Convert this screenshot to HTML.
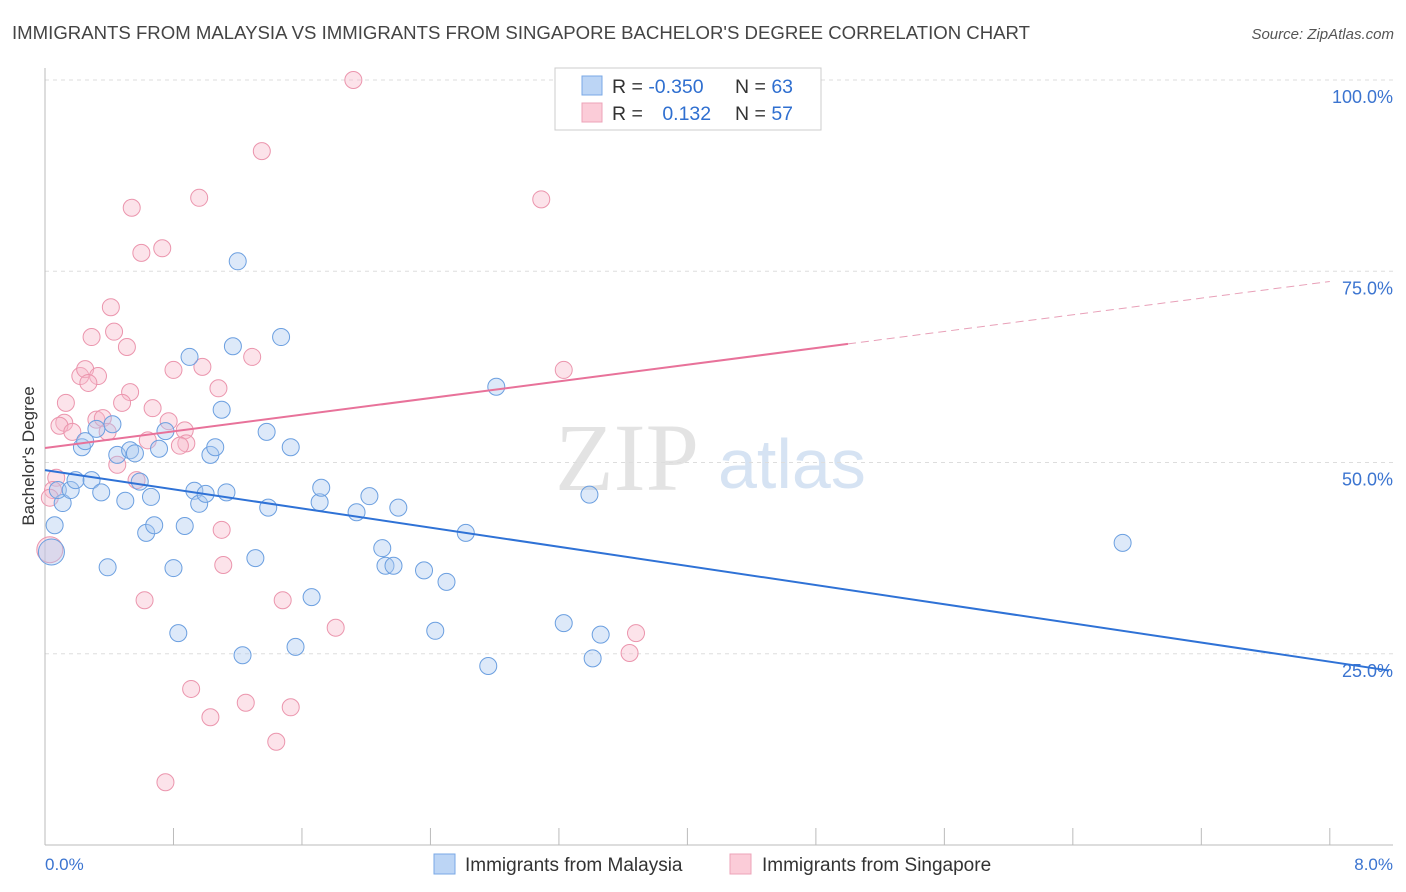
<!DOCTYPE html>
<html><head><meta charset="utf-8"><style>
body{margin:0;background:#fff;font-family:"Liberation Sans",sans-serif;}
svg{display:block}
</style></head><body>
<svg width="1406" height="892" id="chart">
<text x="12" y="39" font-size="18.6" fill="#444" textLength="1018">IMMIGRANTS FROM MALAYSIA VS IMMIGRANTS FROM SINGAPORE BACHELOR'S DEGREE CORRELATION CHART</text>
<text x="1394" y="39" font-size="15" fill="#555" font-style="italic" text-anchor="end">Source: ZipAtlas.com</text>
<g>
<text x="555" y="490" font-size="96" fill="#d8d8d8" font-family="Liberation Serif,serif" opacity="0.7">ZIP</text>
<text x="718" y="488" font-size="70" fill="#c5d8ee" opacity="0.7">atlas</text>
</g>
<g id="grid"></g>
<g id="axes"></g>
<g id="pts"></g>
<g id="lines"></g>
<g>
<rect x="555" y="68" width="266" height="62" fill="#fff" stroke="#ccc"/>
<rect x="582" y="76" width="20" height="19" fill="#bcd5f5" stroke="#7aa8e6"/>
<rect x="582" y="103" width="20" height="19" fill="#fbccd8" stroke="#eca3b8"/>
<text x="612" y="93" font-size="19.5" fill="#333">R = <tspan fill="#2f6fd0">-0.350</tspan></text>
<text x="735" y="93" font-size="19.5" fill="#333">N = <tspan fill="#2f6fd0">63</tspan></text>
<text x="612" y="120" font-size="19.5" fill="#333">R = <tspan fill="#2f6fd0" dx="14">0.132</tspan></text>
<text x="735" y="120" font-size="19.5" fill="#333">N = <tspan fill="#2f6fd0">57</tspan></text>
</g>
<text transform="translate(34,456) rotate(-90)" font-size="17" fill="#333" text-anchor="middle">Bachelor's Degree</text>
<text x="45" y="870" font-size="17" fill="#3b74d0">0.0%</text>
<text x="1393" y="870" font-size="17" fill="#3b74d0" text-anchor="end">8.0%</text>
<g>
<rect x="434" y="854" width="21" height="20" fill="#bcd5f5" stroke="#7aa8e6"/>
<text x="465" y="871" font-size="19" fill="#333">Immigrants from Malaysia</text>
<rect x="730" y="854" width="21" height="20" fill="#fbccd8" stroke="#eca3b8"/>
<text x="762" y="871" font-size="19" fill="#333">Immigrants from Singapore</text>
</g>
</svg>
<script>
const yTicks=[25,50,75,100];
const yTickLabels=["25.0%","50.0%","75.0%","100.0%"];
const xTicks=[0,0.8,1.6,2.4,3.2,4.0,4.8,5.6,6.4,7.2,8.0];
const malaysiaX=[0.06,0.11,0.08,0.16,0.19,0.23,0.25,0.29,0.32,0.35,0.39,0.42,0.45,0.50,0.53,0.56,0.59,0.63,0.66,0.68,0.71,0.75,0.80,0.83,0.87,0.90,0.93,0.96,1.00,1.03,1.06,1.10,1.13,1.17,1.20,1.23,1.31,1.38,1.39,1.47,1.53,1.56,1.66,1.71,1.72,1.94,2.02,2.10,2.12,2.17,2.20,2.36,2.43,2.50,2.62,2.76,2.81,3.23,3.39,3.41,3.46,6.71,0.04];
const malaysiaY=[41.8,44.7,46.4,46.4,47.7,52.0,52.8,47.7,54.4,46.1,36.3,55.0,51.0,45.0,51.6,51.2,47.5,40.8,45.5,41.8,51.8,54.1,36.2,27.7,41.7,63.8,46.3,44.6,45.9,51.0,52.0,56.9,46.1,65.2,76.3,24.8,37.5,54.0,44.1,66.4,52.0,25.9,32.4,44.8,46.7,43.5,45.6,38.8,36.5,36.5,44.1,35.9,28.0,34.4,40.8,23.4,59.9,29.0,45.8,24.4,27.5,39.5,38.3];
const singaporeX=[1.92,1.35,0.96,3.09,0.54,0.73,0.60,0.41,0.29,0.43,0.51,0.22,0.25,0.33,0.27,0.53,0.98,0.80,1.29,3.23,1.08,0.13,0.48,0.67,0.32,0.36,0.12,0.09,0.17,0.39,0.77,0.87,0.64,0.88,0.84,0.45,0.57,0.07,0.05,0.03,1.10,1.11,0.62,1.48,1.81,3.68,3.64,0.91,1.25,1.53,1.03,1.44,0.75,0.03];
const singaporeY=[100.0,90.7,84.6,84.4,83.3,78.0,77.4,70.3,66.4,67.1,65.1,61.3,62.2,61.3,60.4,59.2,62.5,62.1,63.8,62.1,59.7,57.8,57.8,57.1,55.6,55.8,55.2,54.8,54.0,54.0,55.4,54.2,52.9,52.5,52.2,49.7,47.7,48.0,46.4,45.4,41.2,36.6,32.0,32.0,28.4,27.7,25.1,20.4,18.6,18.0,16.7,13.5,8.2,38.6];
const blueLine=[49.0,-3.13];
const pinkLine=[51.9,2.72];
const NS="http://www.w3.org/2000/svg";
function sx(v){return 45+v*160.6;}
function sy(v){return 845-v*7.65;}
function mk(tag,attrs,parent){const e=document.createElementNS(NS,tag);for(const k in attrs)e.setAttribute(k,attrs[k]);document.getElementById(parent).appendChild(e);return e;}
yTicks.forEach((t,i)=>{
 const l=mk('line',{x1:45,x2:1393,y1:sy(t),y2:sy(t),stroke:'#ddd','stroke-dasharray':'4,4'},'grid');
 
 
 const tx=mk('text',{x:1393,y:sy(t)+23,'font-size':18,fill:'#3b74d0','text-anchor':'end'},'grid');
 tx.textContent=yTickLabels[i];
 
 
});
const ya=mk('line',{x1:45,x2:45,y1:68,y2:845,stroke:'#bbb'},'axes');


const xa=mk('line',{x1:45,x2:1393,y1:845,y2:845,stroke:'#bbb'},'axes');


xTicks.forEach(t=>{
 const l=mk('line',{x1:sx(t),x2:sx(t),y1:828,y2:845,stroke:'#bbb'},'axes');
 
 
});
function pts(X,Y,fill,stroke,name){
 X.forEach((x,i)=>{
  const r=(i===X.length-1)?13:8.5;
  const c=mk('circle',{cx:sx(x),cy:sy(Y[i]),r:r,fill:fill,'fill-opacity':0.4,stroke:stroke,'stroke-width':1},'pts');
  
  
 });
}
pts(singaporeX,singaporeY,'#f7b9ca','#eb95ad','point-singapore');
pts(malaysiaX,malaysiaY,'#a9c8f0','#6b9fe0','point-malaysia');
const bl=mk('line',{x1:sx(0),y1:sy(blueLine[0]),x2:sx(8.37),y2:sy(blueLine[0]+blueLine[1]*8.37),stroke:'#2f72d6','stroke-width':2},'lines');


const pl=mk('line',{x1:sx(0),y1:sy(pinkLine[0]),x2:sx(5.0),y2:sy(pinkLine[0]+pinkLine[1]*5.0),stroke:'#e8729a','stroke-width':2},'lines');


const pd=mk('line',{x1:sx(5.0),y1:sy(pinkLine[0]+pinkLine[1]*5.0),x2:sx(8.0),y2:sy(pinkLine[0]+pinkLine[1]*8.0),stroke:'#e8a0b8','stroke-width':1,'stroke-dasharray':'8,5'},'lines');


</script>
</body></html>
